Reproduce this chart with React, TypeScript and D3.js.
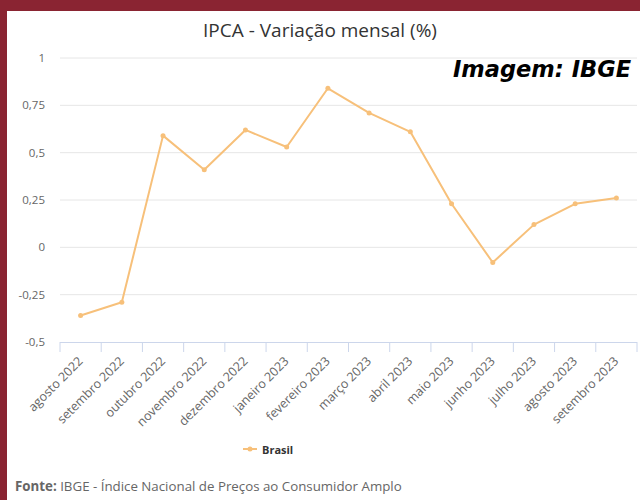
import React from "react";
import * as d3 from "d3";

const months = [
  "agosto 2022", "setembro 2022", "outubro 2022", "novembro 2022", "dezembro 2022",
  "janeiro 2023", "fevereiro 2023", "março 2023", "abril 2023", "maio 2023",
  "junho 2023", "julho 2023", "agosto 2023", "setembro 2023",
];
const brasil = [-0.36, -0.29, 0.59, 0.41, 0.62, 0.53, 0.84, 0.71, 0.61, 0.23, -0.08, 0.12, 0.23, 0.26];
const yTicks = [-0.5, -0.25, 0, 0.25, 0.5, 0.75, 1];

const W = 640;
const H = 500;
const font = "'Open Sans', 'Noto Sans', sans-serif";

const fmt = (v: number) => String(v).replace(".", ",");

export default function App() {
  const left = 60, right = 637, top = 58, bottom = 342;

  const x = d3.scaleBand<string>().domain(months).range([left, right]);
  const y = d3.scaleLinear().domain([-0.5, 1]).range([bottom, top]);

  const line = d3.line<number>()
    .x((_, i) => (x(months[i]) as number) + x.bandwidth() / 2)
    .y(d => y(d));

  const tickXs = months.map(m => x(m) as number).concat([right]);

  return (
    <div style={{ position: "fixed", left: 0, top: 0, width: W, height: H }}>
      <svg width={W} height={H} style={{ display: "block" }}>
        <rect x={0} y={0} width={W} height={H} fill="#fff" />
        <rect x={0} y={0} width={W} height={11} fill="#8a2432" />
        <rect x={0} y={0} width={7} height={H} fill="#8a2432" />

        <text x={320} y={37} textAnchor="middle" fontFamily={font} fontSize={19} fill="#333">
          IPCA - Variação mensal (%)
        </text>

        {yTicks.map(t => (
          <g key={t}>
            {t !== -0.5 && (
              <line x1={left} x2={right} y1={y(t)} y2={y(t)} stroke="#e6e6e6" strokeWidth={1} />
            )}
            <text x={45} y={y(t) + 4} textAnchor="end" fontFamily={font} fontSize={11.5} fill="#666">
              {fmt(t)}
            </text>
          </g>
        ))}

        <line x1={left} x2={right} y1={bottom + 0.5} y2={bottom + 0.5} stroke="#ccd6eb" strokeWidth={1} />
        {tickXs.map((tx, i) => (
          <line key={i} x1={tx} x2={tx} y1={bottom} y2={bottom + 10} stroke="#ccd6eb" strokeWidth={1} />
        ))}

        {months.map(m => {
          const cx = (x(m) as number) + x.bandwidth() / 2 + 3;
          return (
            <text key={m} transform={`translate(${cx},${bottom + 20}) rotate(-45)`} textAnchor="end"
              fontFamily={font} fontSize={12.5} fill="#666">
              {m}
            </text>
          );
        })}

        <path d={line(brasil) || ""} fill="none" stroke="#f7c07a" strokeWidth={2} strokeLinejoin="round" />
        {brasil.map((v, i) => (
          <circle key={i} cx={(x(months[i]) as number) + x.bandwidth() / 2} cy={y(v)} r={2.5} fill="#f7c07a" />
        ))}

        <text x={453} y={77} fontFamily="'DejaVu Sans', sans-serif" fontWeight="bold" fontStyle="italic"
          fontSize={22.5} fill="#000">
          Imagem: IBGE
        </text>

        <line x1={243} x2={257} y1={449} y2={449} stroke="#f7c07a" strokeWidth={2} />
        <circle cx={250} cy={449} r={2.5} fill="#f7c07a" />
        <text x={262} y={453.5} fontFamily={font} fontSize={11} fontWeight="bold" fill="#333">Brasil</text>

        <text x={15} y={491} fontFamily={font} fontSize={13.3} fill="#666">
          <tspan fontWeight="bold">Fonte:</tspan> IBGE - Índice Nacional de Preços ao Consumidor Amplo
        </text>
      </svg>
    </div>
  );
}
